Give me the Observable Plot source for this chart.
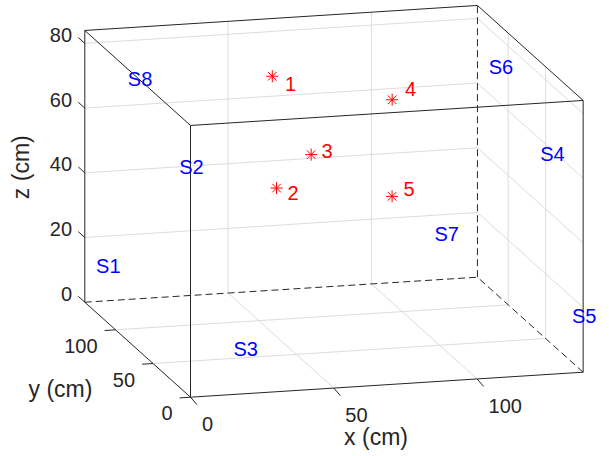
<!DOCTYPE html>
<html>
<head>
<meta charset="utf-8">
<script src="https://cdn.jsdelivr.net/npm/d3@7"></script>
<script src="https://cdn.jsdelivr.net/npm/@observablehq/plot@0.6"></script>
<style>
  html, body { margin: 0; padding: 0; background: #ffffff; }
</style>
</head>
<body>
<div id="chart"></div>
<script>
// ---- axis limits and ticks (cm) ----
const xLimits = [0, 137];
const yLimits = [0, 141];
const zLimits = [0, 84];
const xTicks = [0, 50, 100];
const yTicks = [0, 50, 100];
const zTicks = [0, 20, 40, 60, 80];

// ---- sources (red asterisks) ----
const sourceNames = ["1", "2", "3", "4", "5"];
const sourceX = [54.7, 43.1, 60.4, 93.9, 80.8];
const sourceY = [100, 50, 70, 90, 40];
const sourceZ = [75.3, 51.8, 57.0, 67.9, 49.2];
// text positions of the source numbers
const sourceLabelX = [59.1, 46.9, 64.0, 98.4, 84.8];
const sourceLabelY = [100, 50, 70, 90, 40];
const sourceLabelZ = [72.4, 50.0, 57.8, 70.8, 51.0];

// ---- sensors (blue labels) ----
const sensorNames = ["S1", "S2", "S3", "S4", "S5", "S6", "S7", "S8"];
const sensorX = [0, 0, 15, 122, 137, 137, 122, 15];
const sensorY = [126, 15, 0, 0, 15, 126, 141, 141];
const sensorZ = [14, 68, 14, 68, 14, 68, 14, 68];

// ---- orthographic camera (screen units per cm) ----
const camU = [2.866, -0.7496, 0];
const camV = [0.1825, 0.6738, 3.235];
const proj = (x, y, z) => [
  camU[0] * x + camU[1] * y + camU[2] * z,
  camV[0] * x + camV[1] * y + camV[2] * z
];

const [X0, X1] = xLimits, [Y0, Y1] = yLimits, [Z0, Z1] = zLimits;

function seg(a, b, kind) {
  const p = proj(...a), q = proj(...b);
  return {x1: p[0], y1: p[1], x2: q[0], y2: q[1], kind};
}

// box edges
const edges = [
  seg([X0, Y0, Z0], [X1, Y0, Z0], "solid"),
  seg([X0, Y0, Z0], [X0, Y1, Z0], "solid"),
  seg([X0, Y0, Z0], [X0, Y0, Z1], "solid"),
  seg([X1, Y0, Z0], [X1, Y0, Z1], "solid"),
  seg([X0, Y1, Z0], [X0, Y1, Z1], "solid"),
  seg([X0, Y0, Z1], [X1, Y0, Z1], "solid"),
  seg([X0, Y0, Z1], [X0, Y1, Z1], "solid"),
  seg([X1, Y0, Z1], [X1, Y1, Z1], "solid"),
  seg([X0, Y1, Z1], [X1, Y1, Z1], "solid"),
  seg([X0, Y1, Z0], [X1, Y1, Z0], "dashed"),
  seg([X1, Y0, Z0], [X1, Y1, Z0], "dashed"),
  seg([X1, Y1, Z0], [X1, Y1, Z1], "dashed")
];

// grid lines on back wall (y = max), right wall (x = max), floor (z = 0)
const grid = [];
for (const x of xTicks.filter(t => t > X0 && t < X1)) {
  grid.push(seg([x, Y1, Z0], [x, Y1, Z1]));
  grid.push(seg([x, Y0, Z0], [x, Y1, Z0]));
}
for (const y of yTicks.filter(t => t > Y0 && t < Y1)) {
  grid.push(seg([X1, y, Z0], [X1, y, Z1]));
  grid.push(seg([X0, y, Z0], [X1, y, Z0]));
}
for (const z of zTicks.filter(t => t > Z0 && t < Z1)) {
  grid.push(seg([X0, Y1, z], [X1, Y1, z]));
  grid.push(seg([X1, Y0, z], [X1, Y1, z]));
}

// tick marks
const ticks = [];
for (const x of xTicks) ticks.push(seg([x, Y0, Z0], [x, Y0 - 8.7, Z0 - 0.5]));
for (const y of yTicks) ticks.push(seg([X0, y, Z0], [X0 - 3.8, y, Z0]));
for (const z of zTicks) ticks.push(seg([X0, Y1, z], [X0, Y1 + 8.7, z]));

const pt = (x, y, z, extra) => { const p = proj(x, y, z); return {u: p[0], v: p[1], ...extra}; };

const xTickLabels = xTicks.map(t => pt(t, Y0, Z0, {label: String(t)}));
const yTickLabels = yTicks.map(t => pt(X0, t, Z0, {label: String(t)}));
const zTickLabels = zTicks.map(t => pt(X0, Y1, t, {label: String(t)}));

const sources = sourceNames.map((n, i) => pt(sourceX[i], sourceY[i], sourceZ[i], {name: n}));
const sourceLabels = sourceNames.map((n, i) => pt(sourceLabelX[i], sourceLabelY[i], sourceLabelZ[i], {name: n}));
const sensors = sensorNames.map((n, i) => pt(sensorX[i], sensorY[i], sensorZ[i], {name: n}));

const xTitle = [pt((X0 + X1) / 2, Y0, Z0, {label: "x (cm)"})];
const yTitle = [pt(X0, (Y0 + Y1) / 2, Z0, {label: "y (cm)"})];
const zTitle = [pt(X0, Y1, (Z0 + Z1) / 2, {label: "z (cm)"})];

// MATLAB-style '*' marker: + and x overlaid
const asterisk8 = {
  draw(ctx, size) {
    const r = Math.sqrt(size / Math.PI);
    const d = r * Math.SQRT1_2;
    ctx.moveTo(-r, 0); ctx.lineTo(r, 0);
    ctx.moveTo(0, -r); ctx.lineTo(0, r);
    ctx.moveTo(-d, -d); ctx.lineTo(d, d);
    ctx.moveTo(-d, d); ctx.lineTo(d, -d);
  }
};

const FONT = "'Liberation Sans', Arial, Helvetica, sans-serif";
const AX = "#262626";

const chart = Plot.plot({
  width: 609,
  height: 456,
  marginTop: 0, marginRight: 0, marginBottom: 0, marginLeft: 0,
  style: {fontFamily: FONT, background: "#ffffff"},
  x: {type: "linear", domain: [-190, 419], range: [0, 609], axis: null},
  y: {type: "linear", domain: [-59.3, 396.7], range: [456, 0], axis: null},
  marks: [
    Plot.link(grid, {x1: "x1", y1: "y1", x2: "x2", y2: "y2", stroke: "#dcdcdc", strokeWidth: 1}),
    Plot.link(edges.filter(e => e.kind === "solid"), {x1: "x1", y1: "y1", x2: "x2", y2: "y2", stroke: AX, strokeWidth: 1}),
    Plot.link(edges.filter(e => e.kind === "dashed"), {x1: "x1", y1: "y1", x2: "x2", y2: "y2", stroke: AX, strokeWidth: 1, strokeDasharray: "7,4"}),
    Plot.link(ticks, {x1: "x1", y1: "y1", x2: "x2", y2: "y2", stroke: AX, strokeWidth: 1}),
    Plot.text(xTickLabels, {x: "u", y: "v", text: "label", textAnchor: "start", dx: 11.5, dy: 27.6, fill: AX, fontSize: 20, fontFamily: FONT}),
    Plot.text(yTickLabels, {x: "u", y: "v", text: "label", textAnchor: "end", dx: -18, dy: 16.8, fill: AX, fontSize: 20, fontFamily: FONT}),
    Plot.text(zTickLabels, {x: "u", y: "v", text: "label", textAnchor: "end", dx: -12.8, dy: -8, fill: AX, fontSize: 20, fontFamily: FONT}),
    Plot.text(xTitle, {x: "u", y: "v", text: "label", textAnchor: "middle", dx: -10.8, dy: 53.4, fill: AX, fontSize: 23, fontFamily: FONT}),
    Plot.text(yTitle, {x: "u", y: "v", text: "label", textAnchor: "middle", dx: -77.2, dy: 40.4, fill: AX, fontSize: 23, fontFamily: FONT}),
    Plot.text(zTitle, {x: "u", y: "v", text: "label", textAnchor: "middle", rotate: -90, dx: -63.2, dy: 0.9, fill: AX, fontSize: 23, fontFamily: FONT}),
    Plot.dot(sources, {x: "u", y: "v", r: 6, symbol: asterisk8, stroke: "#ff0000", fill: "none", strokeWidth: 1}),
    Plot.text(sourceLabels, {x: "u", y: "v", text: "name", textAnchor: "start", fill: "#ff0000", fontSize: 20, fontFamily: FONT}),
    Plot.text(sensors, {x: "u", y: "v", text: "name", textAnchor: "start", fill: "#0000ff", fontSize: 20, fontFamily: FONT})
  ]
});
document.getElementById("chart").appendChild(chart);
</script>
</body>
</html>
